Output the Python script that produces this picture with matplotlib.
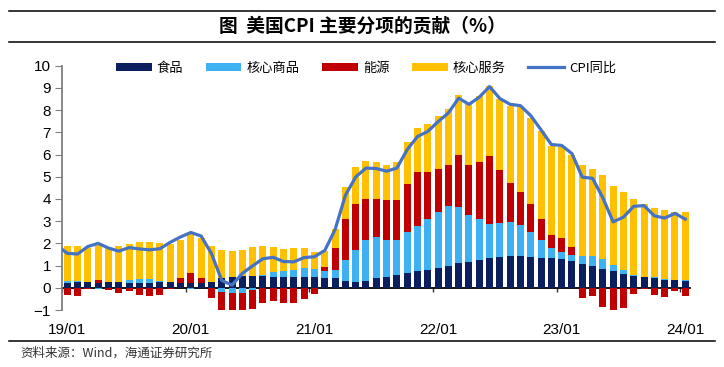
import numpy as np
import matplotlib
matplotlib.use("Agg")
import matplotlib.pyplot as plt
from matplotlib.lines import Line2D

plt.rcParams['font.family'] = ['Liberation Sans', 'Noto Sans CJK SC', 'DejaVu Sans']

# monthly contributions, 2019/01 .. 2024/01 (percentage points)
food = [0.21, 0.25, 0.24, 0.21, 0.24, 0.24, 0.22, 0.21, 0.21, 0.24, 0.24, 0.21,
        0.21, 0.21, 0.24, 0.42, 0.49, 0.55, 0.52, 0.52, 0.48, 0.48, 0.48, 0.50,
        0.47, 0.44, 0.42, 0.30, 0.26, 0.30, 0.42, 0.48, 0.57, 0.65, 0.75, 0.78,
        0.87, 1.00, 1.11, 1.18, 1.27, 1.32, 1.38, 1.44, 1.42, 1.39, 1.36, 1.33,
        1.30, 1.20, 1.09, 0.97, 0.85, 0.74, 0.60, 0.54, 0.48, 0.45, 0.37, 0.34,
        0.31]
core_goods = [0.09, 0.04, 0.03, -0.04, 0.01, 0.04, 0.11, 0.19, 0.18, 0.06, 0.03, 0.00,
              -0.05, 0.00, -0.02, -0.20, -0.23, -0.25, -0.10, 0.07, 0.23, 0.27, 0.30, 0.37,
              0.38, 0.31, 0.37, 0.96, 1.42, 1.87, 1.86, 1.65, 1.60, 1.85, 2.05, 2.32,
              2.53, 2.67, 2.54, 2.11, 1.84, 1.55, 1.52, 1.52, 1.42, 1.11, 0.81, 0.48,
              0.33, 0.27, 0.32, 0.44, 0.44, 0.27, 0.18, 0.04, 0.00, 0.03, 0.03, 0.03,
              0.03]
energy = [-0.34, -0.37, -0.05, 0.13, -0.09, -0.25, -0.16, -0.33, -0.37, -0.32, -0.05, 0.25,
          0.46, 0.21, -0.45, -0.85, -0.82, -0.80, -0.84, -0.67, -0.58, -0.67, -0.70, -0.51,
          -0.27, 0.17, 0.98, 1.82, 2.08, 1.81, 1.73, 1.84, 1.80, 2.18, 2.42, 2.12,
          1.96, 1.87, 2.34, 2.23, 2.55, 3.05, 2.41, 1.76, 1.46, 1.29, 0.94, 0.56,
          0.62, 0.36, -0.48, -0.37, -0.87, -1.06, -0.92, -0.27, -0.05, -0.34, -0.40, -0.15,
          -0.38]
core_services = [1.57, 1.58, 1.53, 1.58, 1.55, 1.62, 1.62, 1.68, 1.66, 1.72, 1.71, 1.71,
                 1.76, 1.80, 1.63, 1.27, 1.16, 1.13, 1.31, 1.27, 1.12, 1.00, 0.99, 0.93,
                 0.75, 0.72, 0.88, 1.44, 1.67, 1.75, 1.66, 1.57, 1.69, 1.88, 1.97, 2.15,
                 2.38, 2.50, 2.69, 2.76, 2.98, 3.17, 3.19, 3.48, 3.83, 3.87, 3.93, 4.02,
                 4.07, 4.16, 4.11, 3.93, 3.80, 3.56, 3.53, 3.42, 3.29, 3.11, 3.12, 3.04,
                 3.07]
# CPI yoy, starting one month earlier (2018/12)
cpi = [1.91,
       1.55, 1.52, 1.86, 2.00, 1.79, 1.65, 1.81, 1.75, 1.71, 1.76, 2.05, 2.29,
       2.49, 2.33, 1.54, 0.33, 0.12, 0.65, 0.99, 1.31, 1.37, 1.18, 1.17, 1.36,
       1.40, 1.68, 2.62, 4.16, 4.99, 5.39, 5.37, 5.25, 5.39, 6.22, 6.81, 7.04,
       7.48, 7.87, 8.54, 8.26, 8.58, 9.06, 8.52, 8.26, 8.20, 7.75, 7.11, 6.45,
       6.41, 6.04, 4.98, 4.93, 4.05, 2.97, 3.18, 3.67, 3.70, 3.24, 3.14, 3.35,
       3.09]
tick_labels = ["19/01", "20/01", "21/01", "22/01", "23/01", "24/01"]

names = ["食品", "核心商品", "能源", "核心服务"]
colors = ["#0B1F5F", "#3DB1F2", "#C00000", "#FFC000"]

fig = plt.figure(figsize=(7.24, 3.67), dpi=100)
ax = fig.add_axes([0.0858, 0.1553, 0.8678, 0.6657])

x = np.arange(len(food))
pos_bottom = np.zeros(len(x))
neg_bottom = np.zeros(len(x))
handles = []
for vals, col, name in zip([food, core_goods, energy, core_services], colors, names):
    v = np.array(vals)
    bottom = np.where(v >= 0, pos_bottom, neg_bottom)
    h = ax.bar(x, v, 0.68, bottom=bottom, color=col, label=name, zorder=2)
    handles.append(h)
    pos_bottom += np.clip(v, 0, None)
    neg_bottom += np.clip(v, None, 0)

line, = ax.plot(np.arange(-1, len(food)), cpi, color="#4472C4", lw=2.3, label="CPI同比", zorder=4)
handles.append(line)

ax.set_xlim(-0.5, len(food) - 0.5)
ax.set_ylim(-1, 10)
ax.set_yticks(range(-1, 11))
ax.tick_params(axis='y', labelsize=11, length=5, color="#808080", pad=3)
ax.set_xticks(np.arange(0, len(food), 12), tick_labels)
ax.tick_params(axis='x', labelsize=11, length=0, pad=9)
for s in ["top", "right", "bottom"]:
    ax.spines[s].set_visible(False)
ax.spines["left"].set_color("#808080")
ax.spines["left"].set_linewidth(1.3)

# zero line with year tick marks
zero = ax.secondary_xaxis(1 / 11)
zero.set_xticks(np.arange(-0.5, len(food), 12), [])
zero.tick_params(length=3, width=1, color="#303030")
zero.spines["bottom"].set_color("black")
zero.spines["bottom"].set_linewidth(1.3)

ax.legend(handles=handles, loc="center", bbox_to_anchor=(0.484, 0.99), ncol=5, frameon=False,
          prop={'family': ['Noto Sans CJK SC', 'DejaVu Sans'], 'size': 9.5},
          handlelength=2.7, handleheight=0.55, handletextpad=0.4, columnspacing=1.7)

fig.text(0.5, 0.929, "图  美国CPI 主要分项的贡献（%）", ha="center", va="center",
         fontsize=13.5, fontweight="bold", family=['Noto Sans CJK SC', 'DejaVu Sans'])
for yy in [0.970, 0.886, 0.071]:
    fig.add_artist(Line2D([0.0124, 0.9876], [yy, yy], transform=fig.transFigure,
                          color="black", lw=1.1))
fig.text(0.028, 0.038, "资料来源：Wind，海通证券研究所", ha="left", va="center",
         fontsize=9, color="#333333", family=['Noto Sans CJK SC', 'DejaVu Sans'])

fig.savefig("out.png", dpi=100)
